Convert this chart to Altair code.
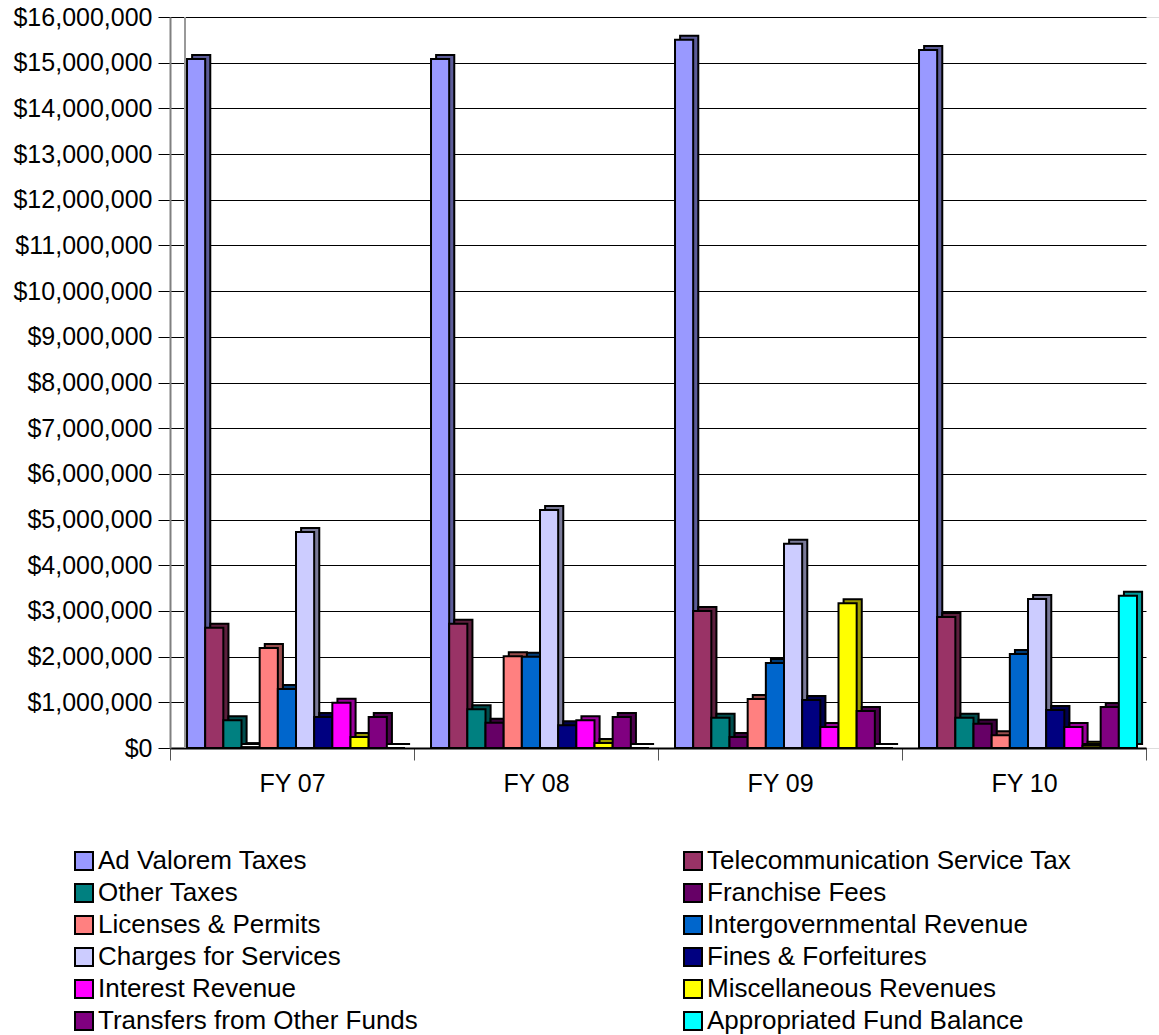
import altair as alt
import pandas as pd

# Fiscal years and revenue sources
years = ["FY 07", "FY 08", "FY 09", "FY 10"]
sources = [
    "Ad Valorem Taxes",
    "Telecommunication Service Tax",
    "Other Taxes",
    "Franchise Fees",
    "Licenses & Permits",
    "Intergovernmental Revenue",
    "Charges for Services",
    "Fines & Forfeitures",
    "Interest Revenue",
    "Miscellaneous Revenues",
    "Transfers from Other Funds",
    "Appropriated Fund Balance",
]

# Revenue by source, one value per fiscal year
ad_valorem = [15_080_000, 15_080_000, 15_500_000, 15_280_000]
telecom = [2_630_000, 2_720_000, 3_000_000, 2_870_000]
other_taxes = [610_000, 850_000, 660_000, 660_000]
franchise = [20_000, 550_000, 240_000, 530_000]
licenses = [2_190_000, 2_010_000, 1_070_000, 280_000]
intergov = [1_290_000, 2_000_000, 1_860_000, 2_060_000]
charges = [4_730_000, 5_210_000, 4_470_000, 3_260_000]
fines = [680_000, 500_000, 1_050_000, 830_000]
interest = [990_000, 610_000, 460_000, 460_000]
misc = [240_000, 110_000, 3_170_000, 50_000]
transfers = [680_000, 680_000, 810_000, 900_000]
appropriated = [0, 0, 0, 3_330_000]

values = [ad_valorem, telecom, other_taxes, franchise, licenses, intergov,
          charges, fines, interest, misc, transfers, appropriated]

# Face colours and the darker shade used for the bar sides
face_colors = ["#9999FF", "#993366", "#008080", "#660066", "#FF8080", "#0066CC",
               "#CCCCFF", "#000080", "#FF00FF", "#FFFF00", "#800080", "#00FFFF"]
side_colors = ["#5C5C99", "#5C1F3D", "#004D4D", "#3D003D", "#994D4D", "#003D7A",
               "#7A7A99", "#00004D", "#990099", "#999900", "#4D004D", "#009999"]

rows = [
    {"Year": y, "Source": s, "Amount": v[i]}
    for s, v in zip(sources, values)
    for i, y in enumerate(years)
]
df = pd.DataFrame(rows)

FONT = "Liberation Sans"

x_enc = alt.X(
    "Year:N",
    sort=years,
    scale=alt.Scale(range=[0, 976], paddingInner=0, paddingOuter=0),
    axis=alt.Axis(
        title=None, labelAngle=0, labelFontSize=25, labelFont=FONT, labelColor="black",
        labelPadding=11, tickBand="extent", tickSize=12, tickColor="#555555",
        domainColor="black", domainWidth=2, grid=False,
    ),
)

y_enc = alt.Y(
    "Amount:Q",
    scale=alt.Scale(domain=[0, 16_000_000], nice=False),
    axis=alt.Axis(
        title=None, format="$,.0f", values=list(range(0, 16_000_001, 1_000_000)),
        labelFontSize=25, labelFont=FONT, labelColor="black", labelPadding=6,
        tickSize=12, tickColor="black", domainColor="#808080", domainWidth=2,
        gridColor="black", gridWidth=1,
    ),
)

# Darker side faces, nudged right and up behind each bar
sides = (
    alt.Chart(df)
    .transform_calculate(Shade="datum.Source")
    .mark_bar(stroke="black", strokeWidth=2, yOffset=-4)
    .encode(
        x=x_enc,
        xOffset=alt.XOffset(
            "Source:N", sort=sources,
            scale=alt.Scale(paddingInner=0, paddingOuter=0.716, align=0.85),
        ),
        y=y_enc,
        fill=alt.Fill("Shade:N", sort=sources,
                      scale=alt.Scale(range=side_colors), legend=None),
    )
)

# Front faces of the bars
fronts = alt.Chart(df).mark_bar(stroke="black", strokeWidth=2).encode(
    x=x_enc,
    xOffset=alt.XOffset(
        "Source:N", sort=sources,
        scale=alt.Scale(paddingInner=0, paddingOuter=0.716, align=0.654),
    ),
    y=y_enc,
    color=alt.Color(
        "Source:N",
        sort=sources,
        scale=alt.Scale(domain=sources, range=face_colors),
        legend=alt.Legend(
            title=None, orient="none", legendX=-99, legendY=831, columns=2,
            direction="horizontal", columnPadding=262, rowPadding=6, padding=0,
            symbolType="square", symbolSize=324, symbolStrokeColor="black",
            symbolStrokeWidth=2, symbolOpacity=1,
            labelFontSize=26, labelFont=FONT, labelColor="black",
            labelLimit=600, labelOffset=1,
        ),
    ),
)

# Back-wall corner edge
corner = alt.Chart(df).mark_rule(color="#999999", strokeWidth=2).encode(
    x=alt.value(15), y=alt.value(0), y2=alt.value(731)
)

chart = (
    alt.layer(corner, sides, fronts)
    .resolve_scale(xOffset="independent")
    .properties(
        width=989,
        height=731,
        autosize=alt.AutoSizeParams(type="none"),
        padding={"left": 170, "top": 17, "right": 0, "bottom": 287},
        background="white",
    )
    .configure_view(fill="#FFFFCC", stroke="#808080", strokeWidth=2)
    .configure(font=FONT)
)

chart.save("out.html", embed_options={"renderer": "svg", "actions": False})
